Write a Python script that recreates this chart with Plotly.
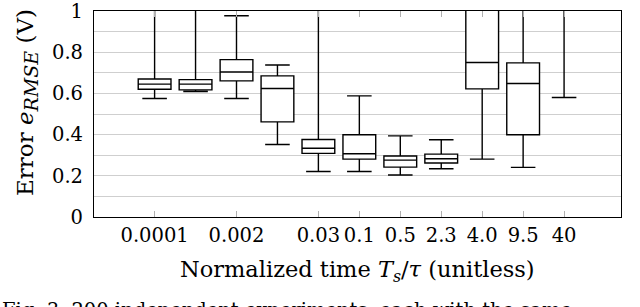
import plotly.graph_objects as go

# Box positions (evenly spaced) and tick labels
positions = [1, 2, 3, 4, 5, 6, 7, 8, 9, 10, 11]
tick_positions = [1, 3, 5, 6, 7, 8, 9, 10, 11]
tick_labels = ["0.0001", "0.002", "0.03", "0.1", "0.5", "2.3", "4.0", "9.5", "40"]
y_tick_values = [0, 0.2, 0.4, 0.6, 0.8, 1.0]
y_tick_labels = ["0", "0.2", "0.4", "0.6", "0.8", "1"]

# Box statistics (values above 1 are clipped in the reference)
lower_whisker = [0.575, 0.609, 0.575, 0.352, 0.221, 0.221, 0.204, 0.234, 0.281, 0.241, 0.580]
q1_vals       = [0.620, 0.617, 0.661, 0.462, 0.309, 0.281, 0.242, 0.262, 0.622, 0.399, 1.10]
median_vals   = [0.645, 0.645, 0.704, 0.624, 0.334, 0.307, 0.276, 0.283, 0.750, 0.648, 1.30]
q3_vals       = [0.670, 0.667, 0.764, 0.685, 0.376, 0.399, 0.296, 0.305, 1.10, 0.748, 1.60]
upper_whisker = [1.30, 1.30, 0.977, 0.738, 1.30, 0.588, 0.394, 0.375, 1.50, 1.30, 2.00]

FONT = "DejaVu Serif"
TICK_FS = 19.5

fig = go.Figure()
fig.add_trace(go.Box(
    x=positions,
    q1=q1_vals,
    median=median_vals,
    q3=q3_vals,
    lowerfence=lower_whisker,
    upperfence=upper_whisker,
    boxpoints=False,
    width=0.8,
    whiskerwidth=0.75,
    fillcolor="white",
    line=dict(color="black", width=1.4),
    showlegend=False,
    hoverinfo="skip",
))

L, R, T, B = 94, 19, 11, 90
PW, PH = 640 - L - R, 307 - T - B

fig.update_layout(
    width=640, height=307,
    margin=dict(l=L, r=R, t=T, b=B, autoexpand=False),
    paper_bgcolor="white",
    plot_bgcolor="white",
    font=dict(family=FONT, size=TICK_FS, color="black"),
    xaxis=dict(
        range=[-0.48, 12.39],
        automargin=False,
        tickmode="array",
        tickvals=tick_positions,
        ticktext=tick_labels,
        ticks="inside",
        ticklen=6,
        tickcolor="#b0b0b0",
        tickwidth=1,
        showgrid=False,
        zeroline=False,
        showline=True,
        linecolor="black",
        linewidth=1.2,
        mirror="ticks",
        tickfont=dict(family=FONT, size=TICK_FS),
    ),
    yaxis=dict(
        range=[0, 1],
        automargin=False,
        tickmode="array",
        tickvals=y_tick_values,
        ticktext=y_tick_labels,
        ticks="",
        ticklabelstandoff=6,
        ticklabeloverflow="allow",
        showgrid=True,
        gridcolor="#cfcfcf",
        gridwidth=1,
        minor=dict(tickvals=[0.1, 0.3, 0.5, 0.7, 0.9], showgrid=True,
                   gridcolor="#cfcfcf", gridwidth=1),
        zeroline=False,
        showline=True,
        linecolor="black",
        linewidth=1.2,
        mirror=True,
        tickfont=dict(family=FONT, size=TICK_FS),
    ),
    annotations=[
        dict(
            text="Normalized time <i>T</i><sub><i>s</i></sub>/<i>τ</i> (unitless)",
            xref="paper", yref="paper",
            x=(357 - L) / PW, y=(T + PH - 271) / PH,
            xanchor="center", yanchor="middle",
            showarrow=False,
            font=dict(family=FONT, size=22.5, color="black"),
        ),
        dict(
            text="Error <i>e</i><sub><span style='font-size:19px'><i>RMSE</i></span></sub> (V)",
            xref="paper", yref="paper",
            x=(27 - L) / PW, y=(T + PH - 103) / PH,
            xanchor="center", yanchor="middle",
            textangle=-90,
            showarrow=False,
            font=dict(family=FONT, size=23, color="black"),
        ),
        dict(
            text="Fig. 3. 200 independent experiments, each with the same",
            xref="paper", yref="paper",
            x=-L / PW, y=-0.39,
            xanchor="left", yanchor="top",
            showarrow=False,
            font=dict(family=FONT, size=19.5, color="black"),
        ),
    ],
)

fig.write_html(
    "out.html",
    config={"displayModeBar": False},
    post_script="document.body.style.margin='0';document.body.style.padding='0';",
)
